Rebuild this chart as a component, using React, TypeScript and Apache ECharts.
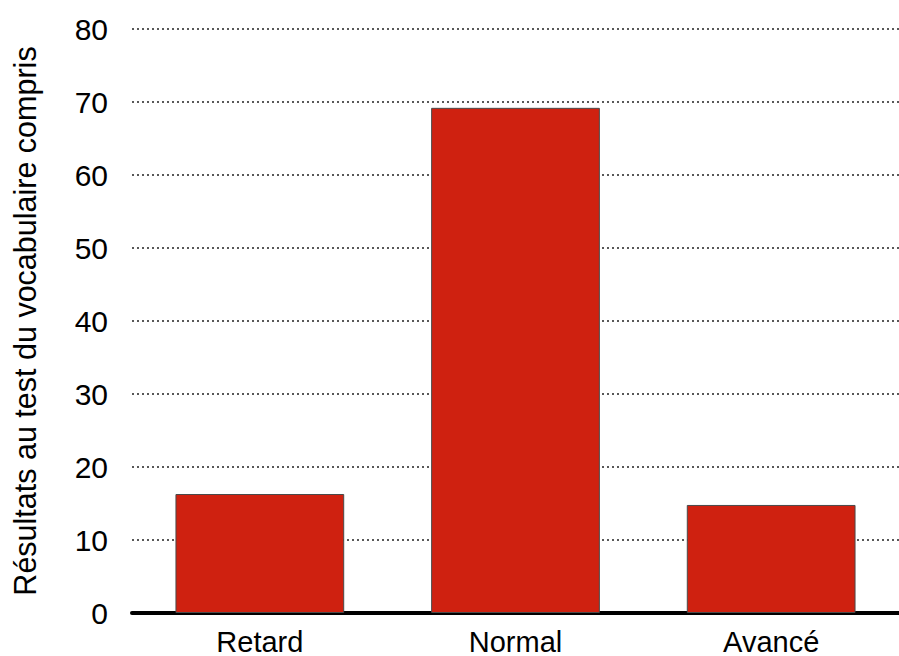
import React, { useEffect, useRef } from "react";
import * as echarts from "echarts";

const categories = ["Retard", "Normal", "Avancé"];
const scores = [16.3, 69.2, 14.8];
const yTicks = { min: 0, max: 80, interval: 10 };
const yAxisTitle = "Résultats au test du vocabulaire compris";

export default function App() {
  const ref = useRef<HTMLDivElement>(null);

  useEffect(() => {
    if (!ref.current) return;
    const chart = echarts.init(ref.current, null, { renderer: "svg" });
    const font = "Liberation Sans, Arial, Helvetica, sans-serif";
    chart.setOption({
      animation: false,
      backgroundColor: "#ffffff",
      grid: { left: 132, right: 0, top: 29, bottom: 41.5, containLabel: false },
      xAxis: {
        type: "category",
        data: categories,
        axisLine: { show: true, lineStyle: { color: "#000", width: 4 } },
        axisTick: { show: false },
        axisLabel: { color: "#000", fontSize: 29, fontFamily: font, margin: 14 },
        splitLine: { show: false },
      },
      yAxis: {
        type: "value",
        min: yTicks.min,
        max: yTicks.max,
        interval: yTicks.interval,
        name: yAxisTitle,
        nameLocation: "middle",
        nameGap: 92,
        nameRotate: 90,
        nameTextStyle: { color: "#000", fontSize: 30.5, fontFamily: font },
        axisLine: { show: false },
        axisTick: { show: false },
        axisLabel: { color: "#000", fontSize: 30, fontFamily: font, margin: 24 },
        splitLine: {
          show: true,
          lineStyle: { color: "#222", width: 1.6, type: [2, 3] },
        },
      },
      series: [
        {
          type: "bar",
          data: scores,
          barCategoryGap: "34%",
          itemStyle: { color: "#cf2110", borderColor: "#4a4a4a", borderWidth: 1 },
          z: 3,
        },
      ],
    });
    return () => chart.dispose();
  }, []);

  return (
    <div
      ref={ref}
      style={{ position: "absolute", left: 0, top: 0, width: 899, height: 656 }}
    />
  );
}
